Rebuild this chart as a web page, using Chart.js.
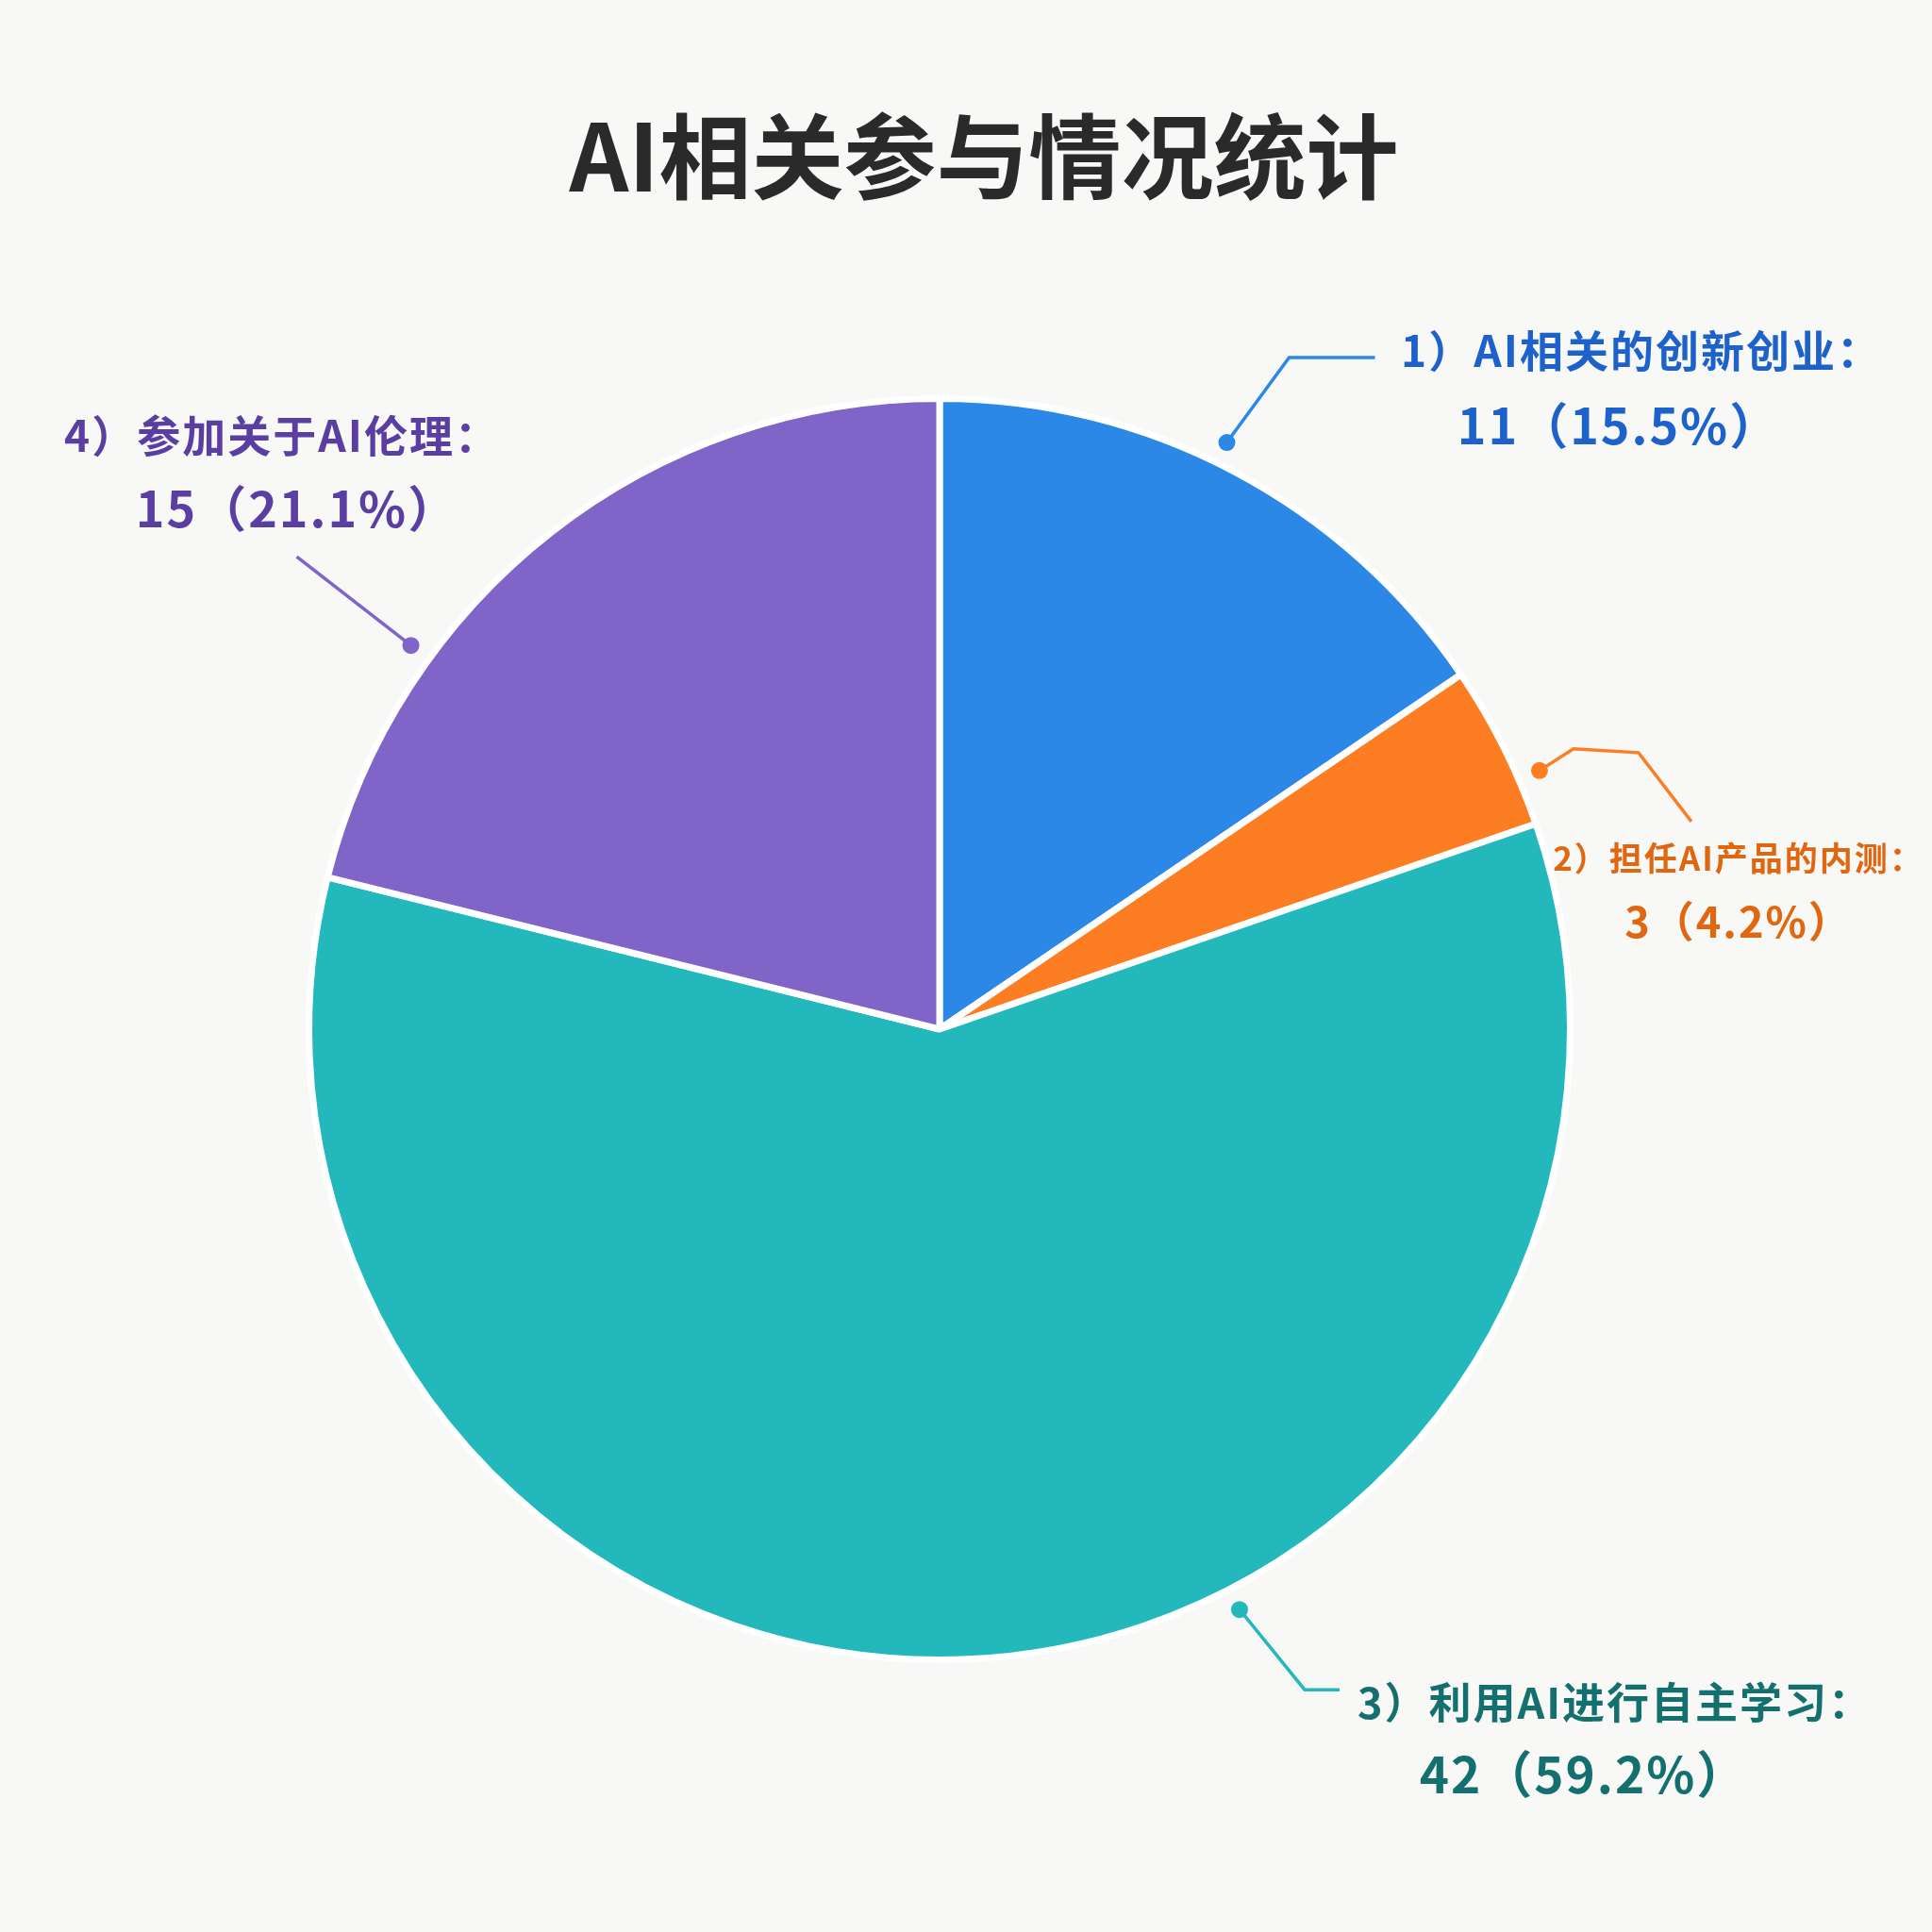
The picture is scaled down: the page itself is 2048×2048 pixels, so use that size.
<!DOCTYPE html>
<html lang="zh">
<head>
    <meta charset="UTF-8">
    <title>AI相关参与情况统计</title>
    <script src="https://cdn.jsdelivr.net/npm/chart.js"></script>
    <style>
        body {
            margin: 0;
            padding: 0;
            background-color: #f8f8f7;
        }
        #wrap {
            width: 2048px;
            height: 2048px;
        }
    </style>
</head>
<body>
    <div id="wrap">
        <canvas id="aiChart" width="2048" height="2048"></canvas>
    </div>

    <script>
        // data
        const chartTitle = 'AI相关参与情况统计';
        const categories = ['1）AI相关的创新创业：', '2）担任AI产品的内测：', '3）利用AI进行自主学习：', '4）参加关于AI伦理：'];
        const counts = [11, 3, 42, 15];
        const sliceColors = ['#2b88e6', '#fd7e22', '#22b8bc', '#8064c8'];
        const textColors = ['#1d62cb', '#e0660f', '#13706f', '#5a3ea2'];

        // label layout (pixels): dot angle shift from slice middle, leader path relative to dot, text centres
        const labelLayout = [
            { shift: -1.8, path: [[66, -90], [157, -90]], l1: [1740, 372, 46], l2: [1716, 451, 52] },
            { shift: 3.3, path: [[36, -23], [105, -19], [161, 54]], l1: [1843, 910, 35], l2: [1843, 977, 45] },
            { shift: -24.8, path: [[69, 85], [106, 85]], l1: [1712, 1805, 45], l2: [1679, 1881, 53] },
            { shift: -16, path: [[-121, -94]], l1: [299, 462, 46], l2: [315, 539, 52] }
        ];

        const total = counts.reduce((a, b) => a + b, 0);
        const fontFamily = '"Noto Sans CJK SC", "Noto Sans", sans-serif';

        // background + title
        const bgPlugin = {
            id: 'bg',
            beforeDraw(chart) {
                const ctx = chart.ctx;
                ctx.save();
                ctx.fillStyle = '#f8f8f7';
                ctx.fillRect(0, 0, chart.width, chart.height);
                ctx.fillStyle = '#2a2a2a';
                ctx.font = 'bold 98px ' + fontFamily;
                ctx.textAlign = 'center';
                ctx.textBaseline = 'middle';
                ctx.fillText(chartTitle, 1043, 166);
                ctx.restore();
            }
        };

        // draws the leader lines and the two-line labels
        const calloutPlugin = {
            id: 'callouts',
            afterDraw(chart) {
                const ctx = chart.ctx;
                const arcs = chart.getDatasetMeta(0).data;
                arcs.forEach((arc, i) => {
                    const lay = labelLayout[i];
                    const mid = (arc.startAngle + arc.endAngle) / 2 + lay.shift * Math.PI / 180;
                    const r = arc.outerRadius + 24;
                    const dx = arc.x + Math.cos(mid) * r;
                    const dy = arc.y + Math.sin(mid) * r;

                    ctx.save();
                    ctx.strokeStyle = sliceColors[i];
                    ctx.fillStyle = sliceColors[i];
                    ctx.lineWidth = 3.5;
                    ctx.beginPath();
                    ctx.moveTo(dx, dy);
                    lay.path.forEach(p => ctx.lineTo(dx + p[0], dy + p[1]));
                    ctx.stroke();
                    ctx.beginPath();
                    ctx.arc(dx, dy, 9, 0, Math.PI * 2);
                    ctx.fill();

                    const pct = (counts[i] / total * 100).toFixed(1);
                    ctx.fillStyle = textColors[i];
                    ctx.textAlign = 'center';
                    ctx.textBaseline = 'middle';
                    ctx.letterSpacing = '2px';
                    ctx.font = 'bold ' + lay.l1[2] + 'px ' + fontFamily;
                    ctx.fillText(categories[i], lay.l1[0], lay.l1[1]);
                    ctx.font = '600 ' + lay.l2[2] + 'px ' + fontFamily;
                    ctx.fillText(counts[i] + '（' + pct + '%）', lay.l2[0], lay.l2[1]);
                    ctx.restore();
                });
            }
        };

        const ctx = document.getElementById('aiChart').getContext('2d');
        new Chart(ctx, {
            type: 'pie',
            data: {
                labels: categories,
                datasets: [{
                    data: counts,
                    backgroundColor: sliceColors,
                    borderColor: '#ffffff',
                    borderWidth: 7
                }]
            },
            options: {
                responsive: false,
                animation: false,
                layout: {
                    padding: { left: 324, right: 380, top: 419, bottom: 285 }
                },
                plugins: {
                    legend: { display: false },
                    tooltip: { enabled: false },
                    title: { display: false }
                }
            },
            plugins: [bgPlugin, calloutPlugin]
        });
    </script>
</body>
</html>
